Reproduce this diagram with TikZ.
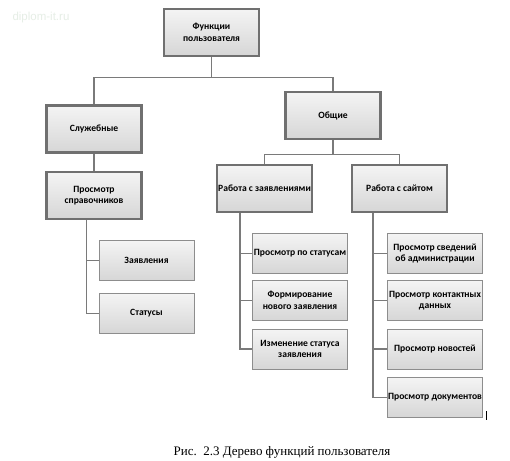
\documentclass[tikz,border=0pt]{standalone}
\usepackage{fontspec}
\setmainfont{Carlito}
\newfontfamily\capfont{Liberation Serif}
\newfontfamily\wmfont{Liberation Sans}
\usetikzlibrary{calc}
\definecolor{boxborder}{HTML}{707070}
\definecolor{connector}{HTML}{7A7A7A}
\definecolor{boxtop}{HTML}{F4F4F4}
\definecolor{boxbot}{HTML}{D6D6D6}
\definecolor{wmcolor}{HTML}{E6EEE6}
\tikzset{
  mainbox/.style={draw=boxborder, line width=2.2pt, top color=boxtop, bottom color=boxbot,
    inner sep=0pt, align=center, font=\fontsize{9.6}{11.5}\selectfont\bfseries,
    minimum width=95pt, minimum height=47pt},
  leafbox/.style={draw=boxborder!80, line width=0.9pt, top color=boxtop, bottom color=boxbot,
    inner sep=0pt, align=center, font=\fontsize{9.6}{11.5}\selectfont\bfseries,
    minimum width=95pt, minimum height=40pt},
  conn/.style={draw=connector, line width=1.2pt},
}
\begin{document}
\begin{tikzpicture}[x=1pt,y=-1pt]
\useasboundingbox (0,0) rectangle (510,460);
\fill[white] (0,0) rectangle (510,460);
\node[anchor=west, text=wmcolor, font=\wmfont\fontsize{11.5}{13}\selectfont] (wm) at (9,18) {diplom-it.ru};
% main boxes
\node[mainbox] (top) at (211.5,32.5) {Функции\\пользователя};
\node[mainbox] (sl) at (94,129) {Служебные};
\node[mainbox] (ob) at (333,115.5) {Общие};
\node[mainbox] (ps) at (94,195.5) {Просмотр\\справочников};
\node[mainbox] (rz) at (264.5,188.5) {Работа с заявлениями};
\node[mainbox] (rs) at (399.5,188.5) {Работа с сайтом};
% leaves
\node[leafbox] (zv) at (146.5,260.5) {Заявления};
\node[leafbox] (st) at (146.5,313.5) {Статусы};
\node[leafbox] (l1) at (300,253.5) {Просмотр по статусам};
\node[leafbox] (l2) at (300,300.5) {Формирование\\нового заявления};
\node[leafbox] (l3) at (300,349) {Изменение статуса\\заявления};
\node[leafbox] (r1) at (435,253.5) {Просмотр сведений\\об администрации};
\node[leafbox] (r2) at (435,300.5) {Просмотр контактных\\данных};
\node[leafbox] (r3) at (435,349) {Просмотр новостей};
\node[leafbox] (r4) at (435,397.5) {Просмотр документов};
% connectors
\draw[conn] (top.south) -- ++(0,20) coordinate (j1);
\draw[conn] (sl.north) |- (j1) -| (ob.north);
\draw[conn] (sl.south) -- (ps.north);
\draw[conn] (ob.south) -- ++(0,14) coordinate (j2);
\draw[conn] (rz.north) |- (j2) -| (rs.north);
\coordinate (a1) at ($(ps.south west)+(41,0)$);
\draw[conn] (a1) |- (zv.west);
\draw[conn] (a1) |- (st.west);
\coordinate (a2) at ($(rz.south west)+(24,0)$);
\draw[conn] (a2) |- (l1.west);
\draw[conn] (a2) |- (l2.west);
\draw[conn] (a2) |- (l3.west);
\coordinate (a3) at ($(rs.south west)+(22,0)$);
\draw[conn] (a3) |- (r1.west);
\draw[conn] (a3) |- (r2.west);
\draw[conn] (a3) |- (r3.west);
\draw[conn] (a3) |- (r4.west);
% text cursor
\draw[line width=1.2pt, black] (486.5,411) -- (486.5,420);
% caption
\node[font=\capfont\fontsize{13}{15}\selectfont] (cap) at (282,452) {Рис.\ \ 2.3 Дерево функций пользователя};
\end{tikzpicture}
\end{document}
